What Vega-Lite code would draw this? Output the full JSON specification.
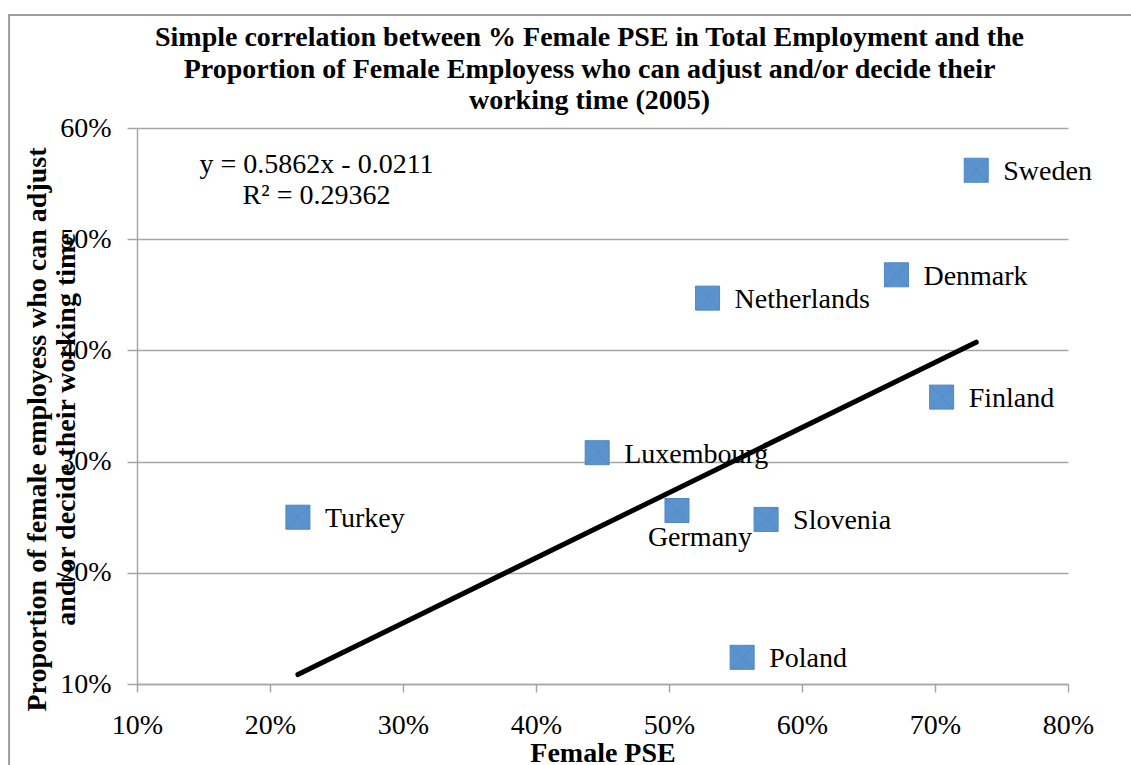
{
  "$schema": "https://vega.github.io/schema/vega-lite/v6.json",
  "width": 931,
  "height": 556,
  "autosize": {"type": "none"},
  "padding": {"left": 137, "top": 128, "right": 63, "bottom": 81},
  "background": "white",
  "title": {
    "text": ["Simple correlation between % Female PSE in Total Employment and the", "Proportion of Female Employess who can adjust and/or decide their", "working time (2005)"],
    "anchor": "middle",
    "frame": "group",
    "dx": -13,
    "offset": -101,
    "fontSize": 28,
    "fontWeight": "bold",
    "font": "Liberation Serif",
    "lineHeight": 31.5,
    "color": "black"
  },
  "datasets": {
    "points": [
      {"country": "Sweden", "pse": 0.731, "adjust": 0.562},
      {"country": "Denmark", "pse": 0.671, "adjust": 0.468},
      {"country": "Netherlands", "pse": 0.529, "adjust": 0.447},
      {"country": "Finland", "pse": 0.705, "adjust": 0.358},
      {"country": "Luxembourg", "pse": 0.446, "adjust": 0.308},
      {"country": "Turkey", "pse": 0.221, "adjust": 0.25},
      {"country": "Germany", "pse": 0.506, "adjust": 0.256},
      {"country": "Slovenia", "pse": 0.573, "adjust": 0.248},
      {"country": "Poland", "pse": 0.555, "adjust": 0.124}
    ],
    "trend": [
      {"pse": 0.221, "adjust": 0.1085},
      {"pse": 0.731, "adjust": 0.4074}
    ],
    "frame": [
      {"x0": 0.0038, "x1": 0.95, "y0": -0.05, "y1": 0.7016}
    ],
    "note": [
      {"pse": 0.235, "adjust": 0.567, "label": ["y = 0.5862x - 0.0211", "R² = 0.29362"]}
    ]
  },
  "config": {
    "font": "Liberation Serif",
    "view": {"stroke": null},
    "axis": {
      "labelFont": "Liberation Serif",
      "labelFontSize": 28,
      "labelColor": "black",
      "titleFont": "Liberation Serif",
      "titleFontSize": 28,
      "titleFontWeight": "bold",
      "titleColor": "black",
      "domainColor": "#a6a6a6",
      "domainWidth": 1.5,
      "tickColor": "#a6a6a6",
      "tickWidth": 1.5,
      "gridColor": "#a6a6a6",
      "gridWidth": 1.5
    }
  },
  "layer": [
    {
      "data": {"name": "frame"},
      "mark": {"type": "rect", "fill": null, "stroke": "#a0a0a0", "strokeWidth": 2, "clip": false},
      "encoding": {
        "x": {"field": "x0", "type": "quantitative"},
        "x2": {"field": "x1"},
        "y": {"field": "y0", "type": "quantitative"},
        "y2": {"field": "y1"}
      }
    },
    {
      "data": {"name": "trend"},
      "mark": {"type": "line", "color": "black", "strokeWidth": 5, "strokeCap": "round"},
      "encoding": {
        "x": {"field": "pse", "type": "quantitative", "scale": {"domain": [0.1, 0.8], "nice": false, "zero": false},
          "axis": {"values": [0.1, 0.2, 0.3, 0.4, 0.5, 0.6, 0.7, 0.8], "format": ".0%", "grid": false, "tickSize": 8, "labelPadding": 19, "title": "Female PSE", "titlePadding": 0, "labelFlush": false}},
        "y": {"field": "adjust", "type": "quantitative", "scale": {"domain": [0.1, 0.6], "nice": false, "zero": false},
          "axis": {"values": [0.1, 0.2, 0.3, 0.4, 0.5, 0.6], "format": ".0%", "grid": true, "tickSize": 10, "labelPadding": 16, "labelFlush": false,
            "title": ["Proportion of female employess who can adjust", "and/or decide their working time"],
            "titleX": -100, "titleY": 301, "titleBaseline": "middle", "titleLineHeight": 29}}
      }
    },
    {
      "data": {"name": "points"},
      "mark": {"type": "point", "shape": "square", "filled": true, "size": 576, "color": "#5b93cf", "stroke": "#4f86c3", "strokeWidth": 1, "opacity": 1},
      "encoding": {
        "x": {"field": "pse", "type": "quantitative"},
        "y": {"field": "adjust", "type": "quantitative"}
      }
    },
    {
      "data": {"name": "points"},
      "mark": {"type": "point", "shape": "M-1,-1L1,1M-1,1L1,-1", "filled": false, "size": 576, "stroke": "#4f86c3", "strokeWidth": 1, "opacity": 0.7},
      "encoding": {
        "x": {"field": "pse", "type": "quantitative"},
        "y": {"field": "adjust", "type": "quantitative"}
      }
    },
    {
      "data": {"name": "points"},
      "transform": [{"filter": "datum.country !== 'Germany'"}],
      "mark": {"type": "text", "align": "left", "baseline": "middle", "dx": 27, "dy": 2, "fontSize": 28, "color": "black"},
      "encoding": {
        "x": {"field": "pse", "type": "quantitative"},
        "y": {"field": "adjust", "type": "quantitative"},
        "text": {"field": "country"}
      }
    },
    {
      "data": {"name": "points"},
      "transform": [{"filter": "datum.country === 'Germany'"}],
      "mark": {"type": "text", "align": "center", "baseline": "middle", "dx": 23, "dy": 27, "fontSize": 28, "color": "black"},
      "encoding": {
        "x": {"field": "pse", "type": "quantitative"},
        "y": {"field": "adjust", "type": "quantitative"},
        "text": {"field": "country"}
      }
    },
    {
      "data": {"name": "note"},
      "mark": {"type": "text", "align": "center", "baseline": "middle", "fontSize": 28, "lineHeight": 31, "color": "black"},
      "encoding": {
        "x": {"field": "pse", "type": "quantitative"},
        "y": {"field": "adjust", "type": "quantitative"},
        "text": {"field": "label"}
      }
    }
  ]
}
